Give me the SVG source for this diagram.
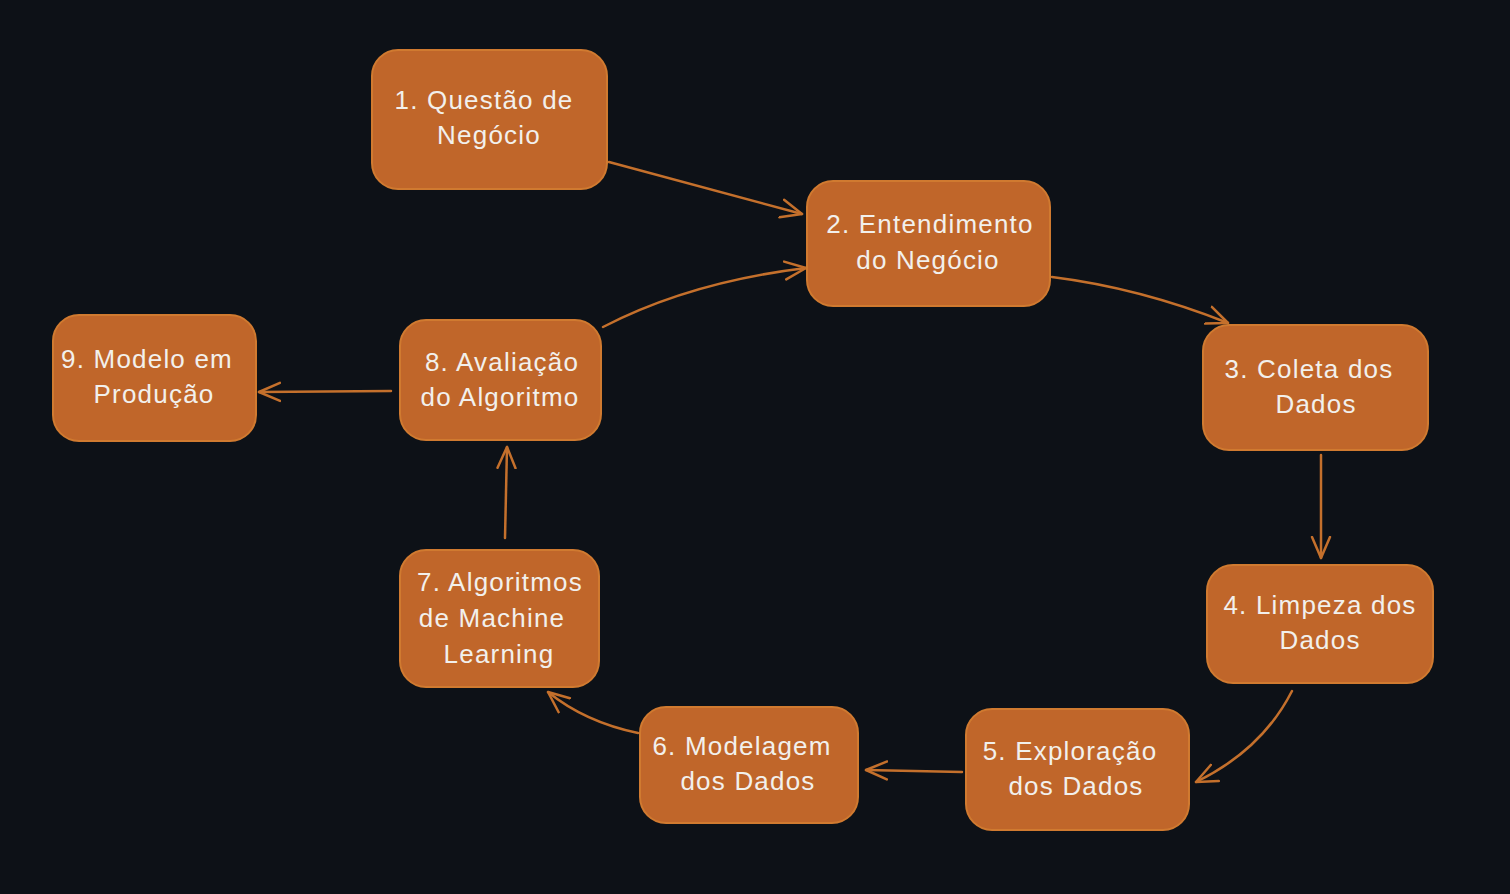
<svg xmlns="http://www.w3.org/2000/svg" width="1510" height="894" viewBox="0 0 1510 894">
  <style>
    .box { fill: #c0662a; stroke: #d07a30; stroke-width: 2; }
    .lbl { font-family: "Liberation Sans", "DejaVu Sans", sans-serif; font-size: 26px; fill: #f2f0ec; text-anchor: middle; letter-spacing: 1.2px; }
    .edge { fill: none; stroke: #c4702c; stroke-width: 2.5; stroke-linecap: round; }
  </style>
  <defs>
    <marker id="arr" viewBox="0 0 24 24" refX="22" refY="12" markerWidth="24" markerHeight="24" markerUnits="userSpaceOnUse" orient="auto">
      <path d="M1,3 L22,12 L1,21" fill="none" stroke="#c4702c" stroke-width="2.5" stroke-linecap="round" stroke-linejoin="round"/>
    </marker>
  </defs>
  <rect width="1510" height="894" fill="#0d1117"/>

  <g id="connectors">
    <path class="edge" d="M609,162 L802,214" marker-end="url(#arr)"/>
    <path class="edge" d="M1052,277 Q1140,288 1228,323" marker-end="url(#arr)"/>
    <path class="edge" d="M1321,455 L1321,558" marker-end="url(#arr)"/>
    <path class="edge" d="M1292,691 Q1262,750 1196,782" marker-end="url(#arr)"/>
    <path class="edge" d="M962,772 L866,770" marker-end="url(#arr)"/>
    <path class="edge" d="M638,733 Q585,722 548,692" marker-end="url(#arr)"/>
    <path class="edge" d="M505,538 L507,447" marker-end="url(#arr)"/>
    <path class="edge" d="M603,327 Q690,282 806,268" marker-end="url(#arr)"/>
    <path class="edge" d="M391,391 L259,392" marker-end="url(#arr)"/>
  </g>

  <g id="n1">
    <rect class="box" x="372" y="50" width="235" height="139" rx="26"/>
    <text class="lbl" x="484" y="109">1. Questão de</text>
    <text class="lbl" x="489" y="144">Negócio</text>
  </g>
  <g id="n2">
    <rect class="box" x="807" y="181" width="243" height="125" rx="26"/>
    <text class="lbl" x="930" y="233">2. Entendimento</text>
    <text class="lbl" x="928" y="269">do Negócio</text>
  </g>
  <g id="n3">
    <rect class="box" x="1203" y="325" width="225" height="125" rx="26"/>
    <text class="lbl" x="1309" y="378">3. Coleta dos</text>
    <text class="lbl" x="1316" y="413">Dados</text>
  </g>
  <g id="n4">
    <rect class="box" x="1207" y="565" width="226" height="118" rx="26"/>
    <text class="lbl" x="1320" y="614">4. Limpeza dos</text>
    <text class="lbl" x="1320" y="649">Dados</text>
  </g>
  <g id="n5">
    <rect class="box" x="966" y="709" width="223" height="121" rx="26"/>
    <text class="lbl" x="1070" y="760">5. Exploração</text>
    <text class="lbl" x="1076" y="795">dos Dados</text>
  </g>
  <g id="n6">
    <rect class="box" x="640" y="707" width="218" height="116" rx="26"/>
    <text class="lbl" x="742" y="755">6. Modelagem</text>
    <text class="lbl" x="748" y="790">dos Dados</text>
  </g>
  <g id="n7">
    <rect class="box" x="400" y="550" width="199" height="137" rx="26"/>
    <text class="lbl" x="500" y="591">7. Algoritmos</text>
    <text class="lbl" x="492" y="627">de Machine</text>
    <text class="lbl" x="499" y="663">Learning</text>
  </g>
  <g id="n8">
    <rect class="box" x="400" y="320" width="201" height="120" rx="26"/>
    <text class="lbl" x="502" y="371">8. Avaliação</text>
    <text class="lbl" x="500" y="406">do Algoritmo</text>
  </g>
  <g id="n9">
    <rect class="box" x="53" y="315" width="203" height="126" rx="26"/>
    <text class="lbl" x="147" y="368">9. Modelo em</text>
    <text class="lbl" x="154" y="403">Produção</text>
  </g>
</svg>
